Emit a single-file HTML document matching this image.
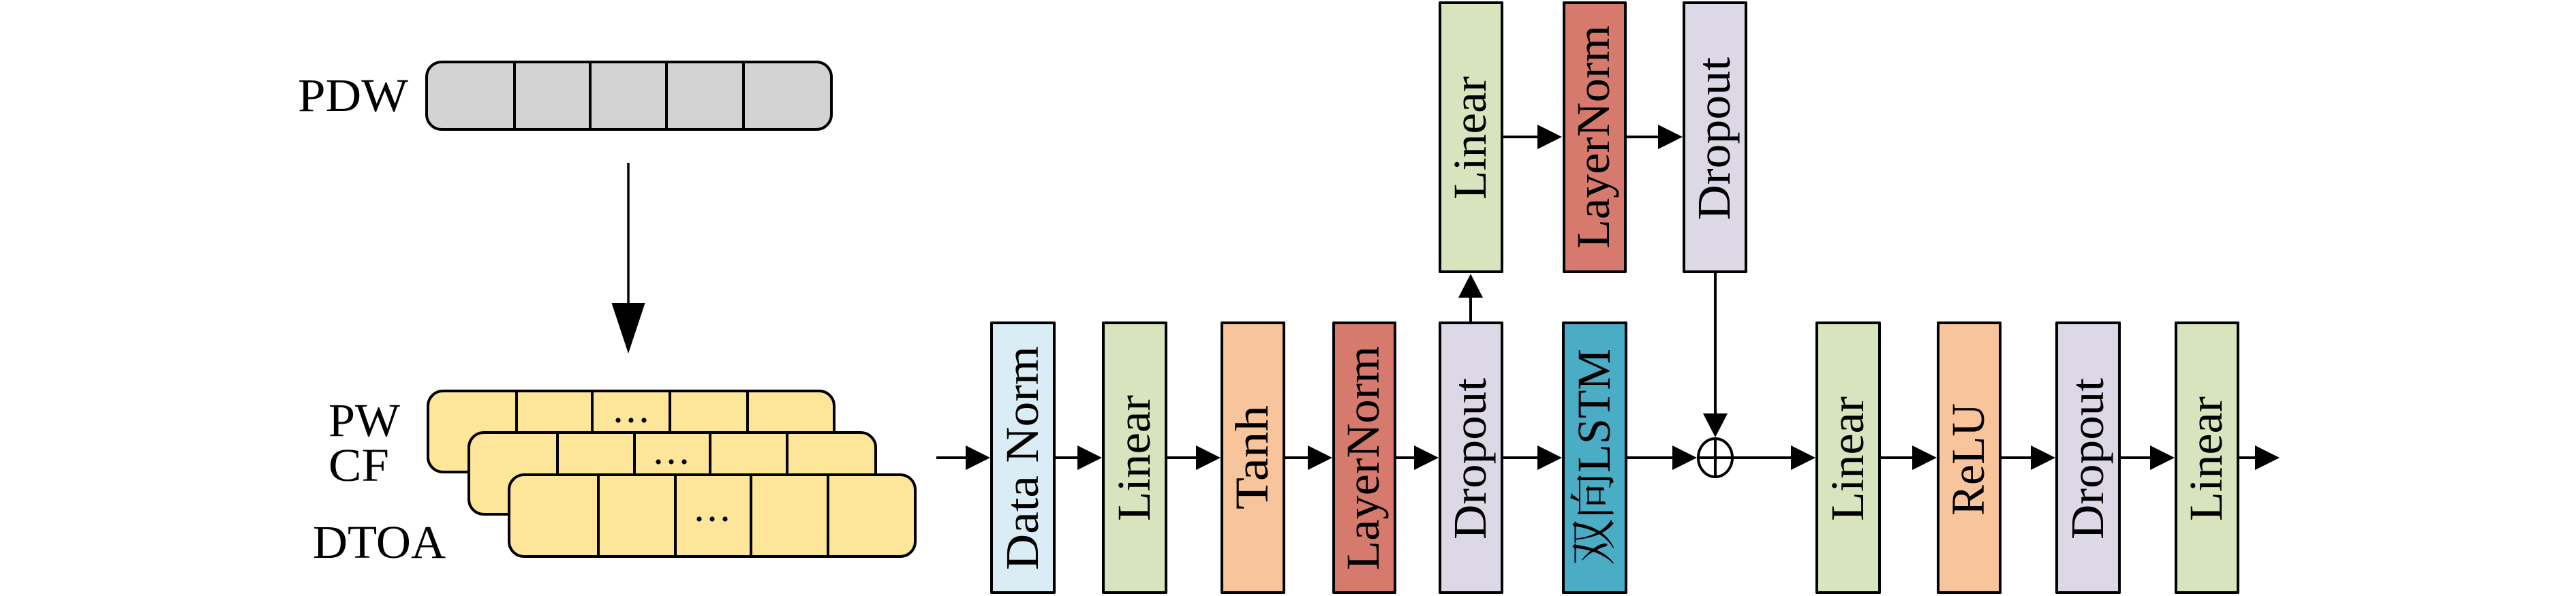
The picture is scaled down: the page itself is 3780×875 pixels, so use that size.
<!DOCTYPE html>
<html>
<head>
<meta charset="utf-8">
<style>
  html, body { margin: 0; padding: 0; background: #ffffff; }
  body { width: 3780px; height: 875px; overflow: hidden; }
  svg { display: block; }
  .t { font-family: "Liberation Serif", "Noto Serif CJK SC", serif; font-size: 69px; fill: #000; }
  .box { stroke: #000; stroke-width: 4; stroke-linejoin: round; }
  .ln { stroke: #000; stroke-width: 4; fill: none; }
</style>
</head>
<body>
<svg width="3780" height="875" viewBox="0 0 3780 875" xmlns="http://www.w3.org/2000/svg">
  <rect x="0" y="0" width="3780" height="875" fill="#ffffff"/>

  <!-- ===== Left: PDW ===== -->
  <text class="t" x="599" y="163" text-anchor="end" textLength="162" lengthAdjust="spacingAndGlyphs">PDW</text>
  <rect x="626" y="91" width="594" height="99" rx="22" ry="22" fill="#d3d3d3" class="box"/>
  <line class="ln" x1="755" y1="91" x2="755" y2="190"/>
  <line class="ln" x1="866" y1="91" x2="866" y2="190"/>
  <line class="ln" x1="978" y1="91" x2="978" y2="190"/>
  <line class="ln" x1="1091" y1="91" x2="1091" y2="190"/>

  <!-- big down arrow -->
  <line x1="922" y1="239" x2="922" y2="450" stroke="#000" stroke-width="3.5"/>
  <polygon points="897.5,445 946.5,445 922,519" fill="#000"/>

  <!-- labels -->
  <text class="t" x="482" y="640" textLength="105" lengthAdjust="spacingAndGlyphs">PW</text>
  <text class="t" x="482" y="706" textLength="89" lengthAdjust="spacingAndGlyphs">CF</text>
  <text class="t" x="459" y="819" textLength="195" lengthAdjust="spacingAndGlyphs">DTOA</text>

  <!-- yellow box 1 -->
  <rect x="628" y="574" width="596" height="119" rx="22" ry="22" fill="#fde59a" class="box"/>
  <line class="ln" x1="758" y1="574" x2="758" y2="693"/>
  <line class="ln" x1="869" y1="574" x2="869" y2="693"/>
  <line class="ln" x1="983" y1="574" x2="983" y2="693"/>
  <line class="ln" x1="1097" y1="574" x2="1097" y2="693"/>
  <circle cx="907" cy="617" r="3.6" fill="#000"/>
  <circle cx="926" cy="617" r="3.6" fill="#000"/>
  <circle cx="945" cy="617" r="3.6" fill="#000"/>

  <!-- yellow box 2 -->
  <rect x="688" y="635" width="597" height="120" rx="22" ry="22" fill="#fde59a" class="box"/>
  <line class="ln" x1="818" y1="635" x2="818" y2="755"/>
  <line class="ln" x1="931" y1="635" x2="931" y2="755"/>
  <line class="ln" x1="1042" y1="635" x2="1042" y2="755"/>
  <line class="ln" x1="1155" y1="635" x2="1155" y2="755"/>
  <circle cx="966" cy="678" r="3.6" fill="#000"/>
  <circle cx="985" cy="678" r="3.6" fill="#000"/>
  <circle cx="1004" cy="678" r="3.6" fill="#000"/>

  <!-- yellow box 3 -->
  <rect x="747" y="697" width="596" height="120" rx="22" ry="22" fill="#fde59a" class="box"/>
  <line class="ln" x1="878" y1="697" x2="878" y2="817"/>
  <line class="ln" x1="991" y1="697" x2="991" y2="817"/>
  <line class="ln" x1="1102" y1="697" x2="1102" y2="817"/>
  <line class="ln" x1="1215" y1="697" x2="1215" y2="817"/>
  <circle cx="1026" cy="762" r="3.6" fill="#000"/>
  <circle cx="1045" cy="762" r="3.6" fill="#000"/>
  <circle cx="1064" cy="762" r="3.6" fill="#000"/>

  <!-- ===== Main row connectors ===== -->
  <line class="ln" x1="1374" y1="672" x2="1420" y2="672"/>
  <polygon points="1417,654 1417,690 1453,672" fill="#000"/>

  <line class="ln" x1="1549" y1="672" x2="1584" y2="672"/>
  <polygon points="1581,654 1581,690 1617,672" fill="#000"/>

  <line class="ln" x1="1713" y1="672" x2="1758" y2="672"/>
  <polygon points="1755,654 1755,690 1791,672" fill="#000"/>

  <line class="ln" x1="1886" y1="672" x2="1922" y2="672"/>
  <polygon points="1919,654 1919,690 1955,672" fill="#000"/>

  <line class="ln" x1="2049" y1="672" x2="2078" y2="672"/>
  <polygon points="2075,654 2075,690 2111,672" fill="#000"/>

  <line class="ln" x1="2206" y1="672" x2="2259" y2="672"/>
  <polygon points="2256,654 2256,690 2292,672" fill="#000"/>

  <line class="ln" x1="2388" y1="672" x2="2457" y2="672"/>
  <polygon points="2454,654 2454,690 2490,672" fill="#000"/>

  <!-- circle plus -->
  <ellipse cx="2517" cy="672" rx="25" ry="28" fill="none" stroke="#000" stroke-width="4"/>
  <line class="ln" x1="2492" y1="672" x2="2542" y2="672"/>
  <line class="ln" x1="2517" y1="644" x2="2517" y2="700"/>

  <line class="ln" x1="2542" y1="672" x2="2631" y2="672"/>
  <polygon points="2628,654 2628,690 2664,672" fill="#000"/>

  <line class="ln" x1="2760" y1="672" x2="2809" y2="672"/>
  <polygon points="2806,654 2806,690 2842,672" fill="#000"/>

  <line class="ln" x1="2937" y1="672" x2="2983" y2="672"/>
  <polygon points="2980,654 2980,690 3016,672" fill="#000"/>

  <line class="ln" x1="3112" y1="672" x2="3158" y2="672"/>
  <polygon points="3155,654 3155,690 3191,672" fill="#000"/>

  <line class="ln" x1="3286" y1="672" x2="3312" y2="672"/>
  <polygon points="3309,654 3309,690 3345,672" fill="#000"/>

  <!-- up arrow from Dropout to top Linear -->
  <line class="ln" x1="2158" y1="472" x2="2158" y2="434"/>
  <polygon points="2140,437 2176,437 2158,402" fill="#000"/>

  <!-- top row connectors -->
  <line class="ln" x1="2206" y1="201" x2="2259" y2="201"/>
  <polygon points="2256,183 2256,219 2292,201" fill="#000"/>
  <line class="ln" x1="2387" y1="201" x2="2436" y2="201"/>
  <polygon points="2433,183 2433,219 2469,201" fill="#000"/>

  <!-- down from top Dropout to circle -->
  <line class="ln" x1="2517" y1="401" x2="2517" y2="610"/>
  <polygon points="2499,607 2535,607 2517,642" fill="#000"/>

  <!-- ===== Main row boxes ===== -->
  <rect x="1455" y="474" width="92" height="396" fill="#dbedf4" class="box"/>
  <text class="t" transform="translate(1523,672.5) rotate(-90)" text-anchor="middle" textLength="329" lengthAdjust="spacingAndGlyphs">Data Norm</text>

  <rect x="1619" y="474" width="92" height="396" fill="#d7e4bd" class="box"/>
  <text class="t" transform="translate(1687,672.5) rotate(-90)" text-anchor="middle" textLength="185" lengthAdjust="spacingAndGlyphs">Linear</text>

  <rect x="1793" y="474" width="91" height="396" fill="#f8c49b" class="box"/>
  <text class="t" transform="translate(1860,671.5) rotate(-90)" text-anchor="middle" textLength="153" lengthAdjust="spacingAndGlyphs">Tanh</text>

  <rect x="1957" y="474" width="90" height="396" fill="#d67a6e" class="box"/>
  <text class="t" transform="translate(2023,672.5) rotate(-90)" text-anchor="middle" textLength="329" lengthAdjust="spacingAndGlyphs">LayerNorm</text>

  <rect x="2113" y="474" width="91" height="396" fill="#dcd8e6" class="box"/>
  <text class="t" transform="translate(2180,673.5) rotate(-90)" text-anchor="middle" textLength="237" lengthAdjust="spacingAndGlyphs">Dropout</text>

  <rect x="2294" y="474" width="92" height="396" fill="#4bacc6" class="box"/>
  <text class="t" transform="translate(2362,671) rotate(-90)" text-anchor="middle" textLength="318" lengthAdjust="spacingAndGlyphs">双向LSTM</text>

  <rect x="2666" y="474" width="92" height="396" fill="#d7e4bd" class="box"/>
  <text class="t" transform="translate(2734,673.5) rotate(-90)" text-anchor="middle" textLength="183" lengthAdjust="spacingAndGlyphs">Linear</text>

  <rect x="2844" y="474" width="91" height="396" fill="#f8c49b" class="box"/>
  <text class="t" transform="translate(2911,674.5) rotate(-90)" text-anchor="middle" textLength="165" lengthAdjust="spacingAndGlyphs">ReLU</text>

  <rect x="3018" y="474" width="92" height="396" fill="#dcd8e6" class="box"/>
  <text class="t" transform="translate(3086,673.5) rotate(-90)" text-anchor="middle" textLength="237" lengthAdjust="spacingAndGlyphs">Dropout</text>

  <rect x="3193" y="474" width="91" height="396" fill="#d7e4bd" class="box"/>
  <text class="t" transform="translate(3260,673.5) rotate(-90)" text-anchor="middle" textLength="183" lengthAdjust="spacingAndGlyphs">Linear</text>

  <!-- ===== Top row boxes ===== -->
  <rect x="2113" y="4" width="91" height="395" fill="#d7e4bd" class="box"/>
  <text class="t" transform="translate(2180,202.5) rotate(-90)" text-anchor="middle" textLength="181" lengthAdjust="spacingAndGlyphs">Linear</text>

  <rect x="2295" y="4" width="90" height="395" fill="#d67a6e" class="box"/>
  <text class="t" transform="translate(2361,201) rotate(-90)" text-anchor="middle" textLength="328" lengthAdjust="spacingAndGlyphs">LayerNorm</text>

  <rect x="2471" y="4" width="91" height="395" fill="#dcd8e6" class="box"/>
  <text class="t" transform="translate(2538,203.5) rotate(-90)" text-anchor="middle" textLength="239" lengthAdjust="spacingAndGlyphs">Dropout</text>
</svg>
</body>
</html>
